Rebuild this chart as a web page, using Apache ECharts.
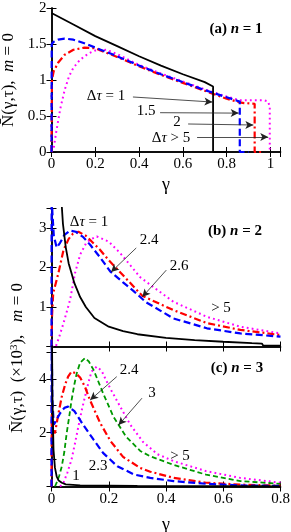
<!DOCTYPE html>
<html><head><meta charset="utf-8">
<script src="https://cdn.jsdelivr.net/npm/echarts@6/dist/echarts.min.js"></script>
<style>html,body{margin:0;padding:0;background:#fff}#c{width:291px;height:532px}</style>
</head><body><div id="c"></div>
<script>
// ---------- Panel (a) n = 1 ----------
const aBlackX = [0, 0.05, 0.1, 0.2, 0.3, 0.4, 0.5, 0.6, 0.7, 0.738, 0.738, 0.8];
const aBlackY = [1.93, 1.85, 1.77, 1.61, 1.47, 1.33, 1.2, 1.08, 0.97, 0.91, 0, 0];
const aBlueX = [0, 0.001, 0.01, 0.03, 0.06, 0.1, 0.15, 0.2, 0.3, 0.4, 0.5, 0.6, 0.7, 0.8, 0.86, 0.86, 0.9];
const aBlueY = [0, 1.5, 1.53, 1.56, 1.575, 1.56, 1.51, 1.45, 1.33, 1.2, 1.08, 0.97, 0.86, 0.76, 0.7, 0, 0];
const aRedX = [0, 0.002, 0.01, 0.03, 0.06, 0.1, 0.15, 0.2, 0.3, 0.4, 0.5, 0.6, 0.7, 0.8, 0.86, 0.88, 0.928, 0.928, 0.96];
const aRedY = [0, 1.0, 1.12, 1.24, 1.35, 1.42, 1.45, 1.44, 1.32, 1.19, 1.07, 0.96, 0.85, 0.74, 0.69, 0.68, 0.67, 0, 0];
const aMagX = [0, 0.01, 0.02, 0.04, 0.06, 0.08, 0.1, 0.13, 0.17, 0.2, 0.25, 0.3, 0.4, 0.5, 0.6, 0.7, 0.8, 0.86, 0.9, 0.97, 0.99, 0.997, 0.997];
const aMagY = [0, 0.05, 0.25, 0.6, 0.86, 1.05, 1.17, 1.28, 1.37, 1.41, 1.42, 1.36, 1.21, 1.09, 0.98, 0.87, 0.77, 0.72, 0.72, 0.72, 0.7, 0.62, 0];
const aYTicks = [0, 0.5, 1, 1.5, 2];
const aXTicks = [0, 0.2, 0.4, 0.6, 0.8, 1];

// ---------- Panel (b) n = 2 (x10^3) ----------
const bBlackX = [0.005, 0.02, 0.03, 0.04, 0.05, 0.06, 0.07, 0.08, 0.1, 0.12, 0.15, 0.2, 0.25, 0.3, 0.4, 0.5, 0.6, 0.7, 0.735, 0.74, 0.8];
const bBlackY = [20, 6, 4.2, 3.1, 2.5, 2.1, 1.85, 1.6, 1.25, 1.0, 0.72, 0.5, 0.39, 0.31, 0.22, 0.16, 0.12, 0.085, 0.075, 0.02, 0.02];
const bBlueX = [0, 0.0005, 0.003, 0.008, 0.018, 0.03, 0.045, 0.065, 0.085, 0.11, 0.135, 0.17, 0.205, 0.25, 0.287, 0.33, 0.426, 0.543, 0.66, 0.8];
const bBlueY = [0, 4.0, 3.4, 2.8, 2.5, 2.62, 2.82, 2.93, 2.9, 2.77, 2.57, 2.25, 1.9, 1.62, 1.4, 1.12, 0.71, 0.46, 0.33, 0.25];
const bRedX = [0, 0.002, 0.006, 0.015, 0.024, 0.042, 0.06, 0.075, 0.094, 0.12, 0.17, 0.2, 0.25, 0.317, 0.426, 0.543, 0.66, 0.8];
const bRedY = [0, 0.8, 1.35, 1.6, 1.85, 2.44, 2.72, 2.85, 2.9, 2.8, 2.44, 2.18, 1.8, 1.28, 0.92, 0.59, 0.42, 0.29];
const bMagX = [0, 0.015, 0.025, 0.042, 0.065, 0.082, 0.1, 0.12, 0.135, 0.158, 0.2, 0.24, 0.31, 0.345, 0.426, 0.543, 0.66, 0.8];
const bMagY = [0, 0, 0.2, 0.59, 1.18, 1.85, 2.32, 2.6, 2.7, 2.78, 2.65, 2.36, 1.75, 1.56, 1.13, 0.75, 0.5, 0.33];
const bYTicks = [1, 2, 3];

// ---------- Panel (c) n = 3 (x10^3) ----------
const cBlackX = [0.0005, 0.003, 0.007, 0.012, 0.018, 0.025, 0.036, 0.05, 0.1, 0.3, 0.5, 0.74, 0.745, 0.8];
const cBlackY = [8, 3.5, 1.37, 0.7, 0.38, 0.22, 0.14, 0.08, 0.04, 0.02, 0.015, 0.01, 0, 0];
const cBlueX = [0, 0.0005, 0.003, 0.008, 0.015, 0.03, 0.045, 0.058, 0.08, 0.11, 0.147, 0.18, 0.23, 0.29, 0.345, 0.427, 0.54, 0.66, 0.8];
const cBlueY = [0, 5.5, 3.2, 2.3, 2.42, 2.72, 2.92, 2.97, 2.8, 2.3, 1.74, 1.25, 0.75, 0.44, 0.32, 0.2, 0.1, 0.04, 0.02];
const cRedX = [0, 0.001, 0.005, 0.012, 0.024, 0.036, 0.048, 0.058, 0.07, 0.085, 0.1, 0.117, 0.134, 0.17, 0.206, 0.25, 0.31, 0.345, 0.427, 0.54, 0.66, 0.8];
const cRedY = [0, 3.0, 2.1, 1.98, 2.7, 3.34, 3.8, 4.08, 4.27, 4.2, 4.05, 3.7, 3.22, 2.36, 1.69, 1.1, 0.69, 0.55, 0.32, 0.14, 0.07, 0.03];
const cGreenX = [0.012, 0.018, 0.027, 0.036, 0.045, 0.053, 0.062, 0.07, 0.08, 0.088, 0.1, 0.117, 0.13, 0.147, 0.18, 0.216, 0.26, 0.31, 0.345, 0.427, 0.54, 0.66, 0.8];
const cGreenY = [0, 0.14, 0.4, 0.75, 1.3, 1.98, 2.6, 3.2, 3.8, 4.2, 4.6, 4.77, 4.65, 4.33, 3.47, 2.6, 1.86, 1.32, 1.12, 0.8, 0.44, 0.2, 0.1];
const cMagX = [0.03, 0.042, 0.055, 0.07, 0.082, 0.094, 0.105, 0.117, 0.13, 0.14, 0.158, 0.175, 0.19, 0.21, 0.23, 0.275, 0.32, 0.37, 0.427, 0.54, 0.66, 0.8];
const cMagY = [0, 0.14, 0.5, 1.0, 1.6, 2.23, 2.8, 3.34, 3.9, 4.27, 4.45, 4.3, 3.96, 3.55, 3.16, 2.3, 1.65, 1.2, 0.94, 0.57, 0.32, 0.14];
const cYTicks = [2, 4];
const bcXTicks = [0, 0.2, 0.4, 0.6, 0.8];

// annotation arrows (data coordinates: [x1, y1, x2, y2])
const aArrows = [[0.372, 0.764, 0.735, 0.694], [0.496, 0.546, 0.855, 0.54], [0.624, 0.389, 0.922, 0.375], [0.665, 0.208, 0.99, 0.208]];
const bArrows = [[0.296, 2.49, 0.208, 1.88], [0.401, 1.93, 0.317, 1.25]];
const cArrows = [[0.228, 4.08, 0.135, 3.21], [0.316, 3.28, 0.234, 2.28]];

const zip = (xs, ys) => xs.map((x, i) => [x, ys[i]]);
const F = 'Liberation Serif';
const chart = echarts.init(document.getElementById('c'), null, {renderer: 'canvas'});

const L = 51.5, W = 229;
const grids = [
  {left: L, top: 8, width: W, height: 144, containLabel: false, outerBoundsMode: 'none'},
  {left: L, top: 208, width: W, height: 138.5, containLabel: false, outerBoundsMode: 'none'},
  {left: L, top: 346.5, width: W, height: 140, containLabel: false, outerBoundsMode: 'none'}
];
const axLine = {show: true, lineStyle: {color: '#000', width: 1.5}};
const tick = {show: true, inside: true, length: 5, lineStyle: {color: '#000', width: 1}};
const lab = {fontFamily: F, fontSize: 15, color: '#000'};
function fmt(list) {
  return v => { const k = list.find(t => Math.abs(t - v) < 1e-6); return k === undefined ? '' : String(k); };
}
function xAx(gi, min, max, showLab, list, pos, name) {
  return {type: 'value', gridIndex: gi, min, max, interval: 0.2, position: pos,
    axisLine: axLine, axisTick: tick, splitLine: {show: false},
    axisLabel: Object.assign({show: showLab, margin: 5, formatter: fmt(list || []), showMaxLabel: true}, lab),
    name: name || '', nameLocation: 'middle', nameGap: 26,
    nameTextStyle: {fontFamily: F, fontSize: 18, color: '#000'}};
}
function yAx(gi, min, max, interval, showLab, list, pos) {
  return {type: 'value', gridIndex: gi, min, max, interval, position: pos,
    axisLine: axLine, axisTick: tick, splitLine: {show: false},
    axisLabel: Object.assign({show: showLab, margin: 5, formatter: fmt(list || []), showMaxLabel: true}, lab)};
}
const xAxis = [
  xAx(0, 0, 1.046, true, aXTicks, 'bottom', 'γ'),
  xAx(0, 0, 1.046, false, null, 'top'),
  xAx(1, 0, 0.8, false, null, 'bottom'),
  xAx(1, 0, 0.8, false, null, 'top'),
  xAx(2, 0, 0.8, true, bcXTicks, 'bottom', 'γ'),
  xAx(2, 0, 0.8, false, null, 'top')
];
const yAxis = [
  yAx(0, 0, 2, 0.5, true, aYTicks, 'left'),
  yAx(0, 0, 2, 0.5, false, null, 'right'),
  yAx(1, 0, 3.5, 1, true, bYTicks, 'left'),
  yAx(1, 0, 3.5, 1, false, null, 'right'),
  yAx(2, 0, 5.2, 1, true, cYTicks, 'left'),
  yAx(2, 0, 5.2, 1, false, null, 'right')
];
xAxis[0].nameGap = 24; xAxis[4].nameGap = 30;
yAxis[0].name = '{n|N\u0304}{t|(γ,τ),  }{i|m}{u| = 0}';
yAxis[0].nameLocation = 'middle';
yAxis[0].nameGap = 30;
yAxis[0].nameTextStyle = {fontFamily: F, fontSize: 17, color: '#000',
  rich: {n: {fontFamily: F, fontSize: 17}, t: {fontFamily: F, fontSize: 17}, u: {fontFamily: F, fontSize: 17}, i: {fontFamily: F, fontSize: 17, fontStyle: 'italic'}}};

const styles = {
  black: {color: '#000', width: 1.8, type: 'solid'},
  blue: {color: '#0000ff', width: 2.2, type: [7, 3.5]},
  red: {color: '#ff0000', width: 2.2, type: [7, 3, 2, 3]},
  mag: {color: '#ff00ff', width: 2, type: [1.8, 3.2]},
  green: {color: '#009900', width: 1.8, type: [5, 3]}
};
function line(ax, data, st, arrows) {
  const s = {type: 'line', xAxisIndex: ax, yAxisIndex: ax, data, showSymbol: false, symbol: 'none',
    lineStyle: st, clip: true, silent: true, z: st.color === '#000' ? 3 : 2};
  if (arrows) {
    s.markLine = {silent: true, symbol: ['none', 'arrow'], symbolSize: [6, 8], animation: false,
      lineStyle: {color: '#222', width: 0.8, type: 'solid'}, label: {show: false},
      data: arrows.map(a => [{coord: [a[0], a[1]]}, {coord: [a[2], a[3]]}])};
  }
  return s;
}
const series = [
  line(0, zip(aMagX, aMagY), styles.mag),
  line(0, zip(aRedX, aRedY), styles.red),
  line(0, zip(aBlueX, aBlueY), styles.blue),
  line(0, zip(aBlackX, aBlackY), styles.black, aArrows),
  line(2, zip(bMagX, bMagY), styles.mag),
  line(2, zip(bRedX, bRedY), styles.red),
  line(2, zip(bBlueX, bBlueY), styles.blue),
  line(2, zip(bBlackX, bBlackY), styles.black, bArrows),
  line(4, zip(cMagX, cMagY), styles.mag),
  line(4, zip(cGreenX, cGreenY), styles.green),
  line(4, zip(cRedX, cRedY), styles.red),
  line(4, zip(cBlueX, cBlueY), styles.blue),
  line(4, zip(cBlackX, cBlackY), styles.black, cArrows)
];

function txt(x, y, text, size, extra) {
  return {type: 'text', x, y, z: 100, style: Object.assign({text, fontFamily: F, fontSize: size || 15, fill: '#000',
    align: 'center', verticalAlign: 'middle'}, extra || {})};
}
const panelRich = {b: {fontFamily: F, fontSize: 15, fontWeight: 'bold'}, bi: {fontFamily: F, fontSize: 15, fontWeight: 'bold', fontStyle: 'italic'}};
const dRich = {t: {fontFamily: F, fontSize: 15}, i: {fontFamily: F, fontSize: 15, fontStyle: 'italic'}};
const graphic = [
  txt(236, 29, '{b|(a) }{bi|n}{b| = 1}', 15, {rich: panelRich}),
  txt(235, 231, '{b|(b) }{bi|n}{b| = 2}', 15, {rich: panelRich}),
  txt(237, 368, '{b|(c) }{bi|n}{b| = 3}', 15, {rich: panelRich}),
  txt(106, 96, '{t|Δ}{i|τ}{t| = 1}', 15, {rich: dRich}),
  txt(146, 111, '1.5'),
  txt(177, 122, '2'),
  txt(171, 138, '{t|Δ}{i|τ}{t| > 5}', 15, {rich: dRich}),
  txt(89, 222, '{t|Δ}{i|τ}{t| = 1}', 15, {rich: dRich}),
  txt(149, 240, '2.4'),
  txt(179, 266, '2.6'),
  txt(221, 308, '> 5'),
  txt(129, 370, '2.4'),
  txt(152, 393, '3'),
  txt(98, 466, '2.3'),
  txt(76, 476, '1'),
  txt(180, 456, '> 5'),
  {type: 'text', x: 18, y: 358, rotation: Math.PI / 2, z: 100,
    style: {text: '{n|N\u0304}{t|(γ,τ)}{u|  (×10}{s|3}{u|),   }{i|m}{u| = 0}', align: 'center', verticalAlign: 'middle',
      fontFamily: F, fontSize: 17, fill: '#000',
      rich: {n: {fontFamily: F, fontSize: 17}, t: {fontFamily: F, fontSize: 17},
        u: {fontFamily: F, fontSize: 17}, s: {fontFamily: F, fontSize: 11, verticalAlign: 'top', padding: [0, 0, 8, 0]},
        i: {fontFamily: F, fontSize: 17, fontStyle: 'italic'}}}}
];

chart.setOption({animation: false, backgroundColor: '#fff', grid: grids, xAxis, yAxis, series, graphic});
</script></body></html>
